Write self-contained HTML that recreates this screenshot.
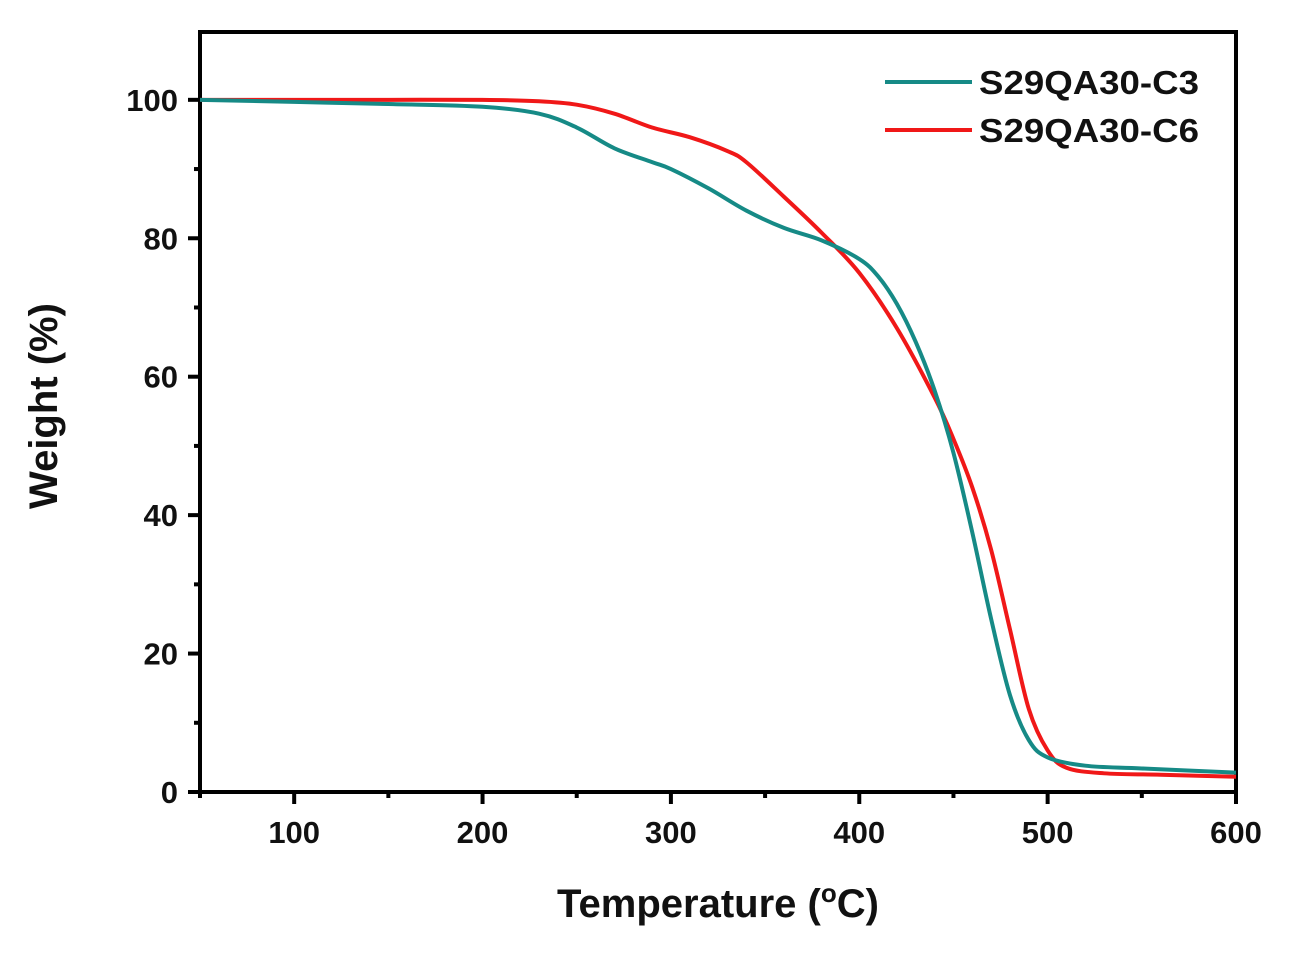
<!DOCTYPE html>
<html><head><meta charset="utf-8"><style>
html,body{margin:0;padding:0;background:#fff;}
svg text{font-family:"Liberation Sans",Arial,sans-serif;font-weight:bold;fill:#111;}
</style></head><body>
<svg id="chart" width="1289" height="953" viewBox="0 0 1289 953" xmlns="http://www.w3.org/2000/svg">
<g id="axes"></g>
<g id="series"></g>
<text x="718" y="917" font-size="40" text-anchor="middle">Temperature (<tspan font-size="26" dy="-15">o</tspan><tspan dy="15">C)</tspan></text>
<text transform="translate(57,406) rotate(-90)" font-size="40" text-anchor="middle">Weight (%)</text>
<g>
<line x1="885" y1="82" x2="972" y2="82" stroke="#168a86" stroke-width="4"/>
<text x="979" y="94" font-size="33" textLength="220" lengthAdjust="spacingAndGlyphs">S29QA30-C3</text>
<line x1="885" y1="130" x2="972" y2="130" stroke="#f01818" stroke-width="4"/>
<text x="979" y="142" font-size="33" textLength="220" lengthAdjust="spacingAndGlyphs">S29QA30-C6</text>
</g>
</svg>
<script>
const xTicks=[100,200,300,400,500,600];
const yTicks=[0,20,40,60,80,100];
const c3T=[50,100,150,200,230,250,270,290,300,320,340,360,380,400,410,420,430,440,450,460,470,480,490,500,520,550,600];
const c3W=[100,99.7,99.4,99,98,96,93,91,90,87.2,84,81.5,79.7,77,74.5,70.5,65,58,49,37.5,25,14,7.5,5,3.8,3.4,2.8];
const c6T=[50,100,150,200,230,250,270,290,310,330,340,360,380,400,420,440,450,460,470,480,490,500,510,530,560,600];
const c6W=[100,100,100,100,99.8,99.3,98,96,94.6,92.6,91,86,80.8,75,67,57,51,44,35,23.5,12,6,3.5,2.7,2.5,2.2];
const X0=200,X1=1236,Y0=792,Y1=32,xmin=50,xmax=600,ymin=0,ymax=109.8;
const sx=v=>X0+(v-xmin)/(xmax-xmin)*(X1-X0);
const sy=v=>Y0-(v-ymin)/(ymax-ymin)*(Y0-Y1);
const NS="http://www.w3.org/2000/svg";
function mk(tag,attrs,parent){const e=document.createElementNS(NS,tag);for(const k in attrs)e.setAttribute(k,attrs[k]);parent.appendChild(e);return e;}
const ax=document.getElementById('axes');
let r=mk('rect',{x:X0,y:Y1,width:X1-X0,height:Y0-Y1,fill:'none',stroke:'#000','stroke-width':4},ax);


for(let v=50;v<=600;v+=50){const major=v%100===0;
 let t=mk('line',{x1:sx(v),x2:sx(v),y1:Y0,y2:Y0+(major?12:6),stroke:'#000','stroke-width':4},ax);
 
 }
xTicks.forEach(v=>{let t=mk('text',{x:sx(v),y:Y0+51,'font-size':31,'text-anchor':'middle'},ax);t.textContent=v;
 
 });
for(let v=0;v<=100;v+=10){const major=v%20===0;
 let t=mk('line',{x1:X0,x2:X0-(major?12:6),y1:sy(v),y2:sy(v),stroke:'#000','stroke-width':4},ax);
 
 }
yTicks.forEach(v=>{let t=mk('text',{x:X0-22,y:sy(v)+11,'font-size':31,'text-anchor':'end'},ax);t.textContent=v;
 
 });
function path(T,W){let p=T.map((t,i)=>[sx(t),sy(W[i])]);let d='M'+p[0][0]+','+p[0][1];
 for(let i=0;i<p.length-1;i++){const p0=p[i-1]||p[i],p1=p[i],p2=p[i+1],p3=p[i+2]||p2;
  d+=' C'+(p1[0]+(p2[0]-p0[0])/6)+','+(p1[1]+(p2[1]-p0[1])/6)+' '+(p2[0]-(p3[0]-p1[0])/6)+','+(p2[1]-(p3[1]-p1[1])/6)+' '+p2[0]+','+p2[1];}
 return d;}
const sg=document.getElementById('series');
let l1=mk('path',{d:path(c6T,c6W),fill:'none',stroke:'#f01818','stroke-width':4},sg);


let l2=mk('path',{d:path(c3T,c3W),fill:'none',stroke:'#168a86','stroke-width':4},sg);


</script>
</body></html>
